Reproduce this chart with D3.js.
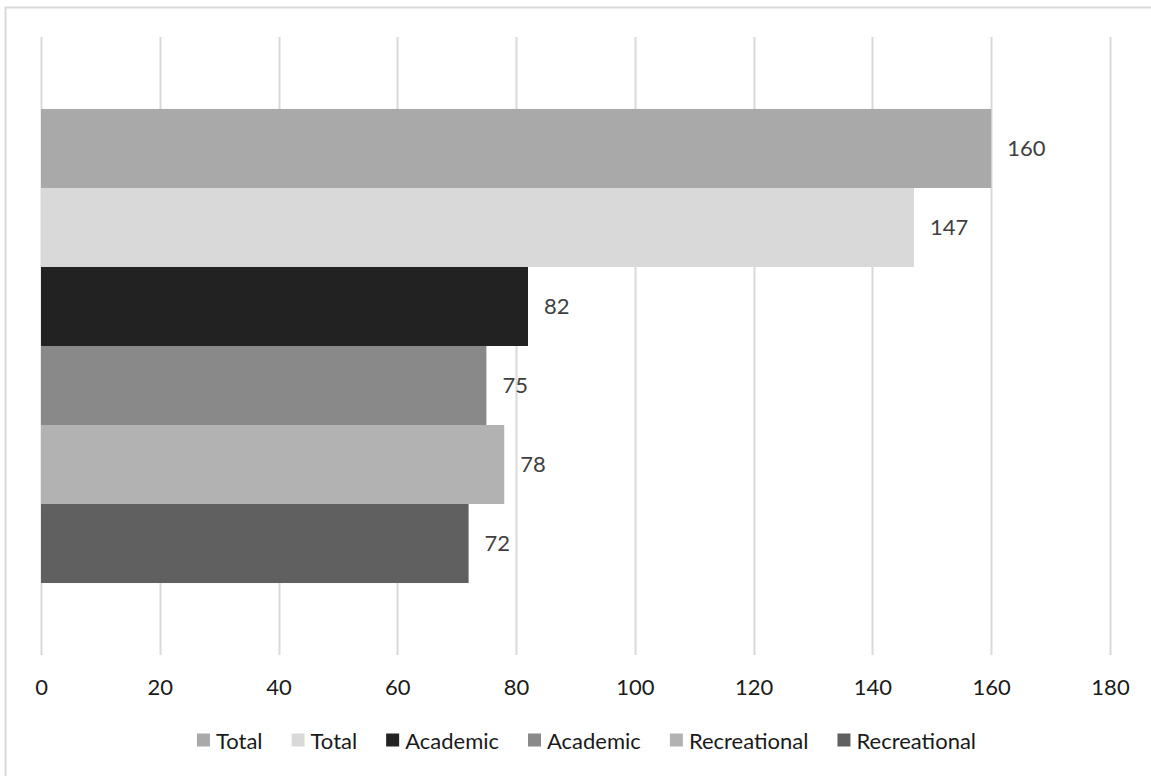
<!DOCTYPE html>
<html>
<head>
<meta charset="utf-8">
<script src="https://cdn.jsdelivr.net/npm/d3@7"></script>
<style>
  html, body { margin: 0; padding: 0; background: #fff; }
  svg { display: block; }
  text { font-family: Lato, "Open Sans", sans-serif; }
</style>
</head>
<body>
<svg id="chart" width="1151" height="776"></svg>
<script>
const seriesNames = ["Total", "Total", "Academic", "Academic", "Recreational", "Recreational"];
const seriesValues = [160, 147, 82, 75, 78, 72];
const seriesColors = ["#a9a9a9", "#d9d9d9", "#222222", "#898989", "#b2b2b2", "#606060"];
const xTicks = [0, 20, 40, 60, 80, 100, 120, 140, 160, 180];

const svg = d3.select("#chart");
const W = 1151, H = 776;

// chart border (only top and left edges are visible; the picture is cropped)
svg.append("path")
  .attr("d", `M5.5,${H} L5.5,7.5 L${W},7.5`)
  .attr("fill", "none").attr("stroke", "#d9d9d9").attr("stroke-width", 2);

const plot = { left: 41, right: 1110, top: 37, bottom: 655 };

const x = d3.scaleLinear().domain([0, 180]).range([plot.left, plot.right]);
const y = d3.scaleBand()
  .domain(d3.range(seriesValues.length))
  .range([plot.top, plot.bottom])
  .paddingInner(0)
  .paddingOuter(0.911);

// gridlines
svg.append("g")
  .selectAll("line")
  .data(xTicks)
  .join("line")
  .attr("x1", d => Math.round(x(d)) + 0.5)
  .attr("x2", d => Math.round(x(d)) + 0.5)
  .attr("y1", plot.top).attr("y2", plot.bottom)
  .attr("stroke", "#d9d9d9").attr("stroke-width", 2);

// bars
svg.append("g")
  .selectAll("rect")
  .data(seriesValues)
  .join("rect")
  .attr("x", x(0))
  .attr("y", (d, i) => y(i))
  .attr("width", d => x(d) - x(0))
  .attr("height", y.bandwidth())
  .attr("fill", (d, i) => seriesColors[i]);

// data labels
svg.append("g")
  .selectAll("text")
  .data(seriesValues)
  .join("text")
  .attr("x", d => x(d) + 16)
  .attr("y", (d, i) => y(i) + y.bandwidth() / 2)
  .attr("dy", "0.35em")
  .attr("font-size", 22)
  .attr("fill", "#404040")
  .text(d => d);

// x axis labels
const axis = d3.axisBottom(x).tickValues(xTicks).tickSize(0).tickPadding(0);
const ax = svg.append("g")
  .attr("transform", `translate(0, ${plot.bottom + 40})`)
  .call(axis);
ax.select(".domain").remove();
ax.selectAll("text")
  .attr("font-size", 22)
  .attr("font-family", "Lato, 'Open Sans', sans-serif")
  .attr("fill", "#1a1a1a")
  .attr("dy", 0)
  .attr("y", 0);

// legend
const legend = svg.append("g");
const sq = 13, gapText = 6, gapItem = 29;
let cx = 0;
const items = legend.selectAll("g")
  .data(seriesNames)
  .join("g");
items.append("rect")
  .attr("width", sq).attr("height", sq)
  .attr("y", -sq / 2 - 1)
  .attr("fill", (d, i) => seriesColors[i]);
items.append("text")
  .attr("x", sq + gapText)
  .attr("dy", "0.35em")
  .attr("font-size", 22)
  .attr("fill", "#1a1a1a")
  .text(d => d);
items.each(function() {
  const g = d3.select(this);
  g.attr("transform", `translate(${cx},0)`);
  const tw = g.select("text").node().getComputedTextLength();
  cx += sq + gapText + tw + gapItem;
});
const totalW = cx - gapItem;
legend.attr("transform", `translate(${(196 + 977) / 2 - totalW / 2}, 741)`);
</script>
</body>
</html>
